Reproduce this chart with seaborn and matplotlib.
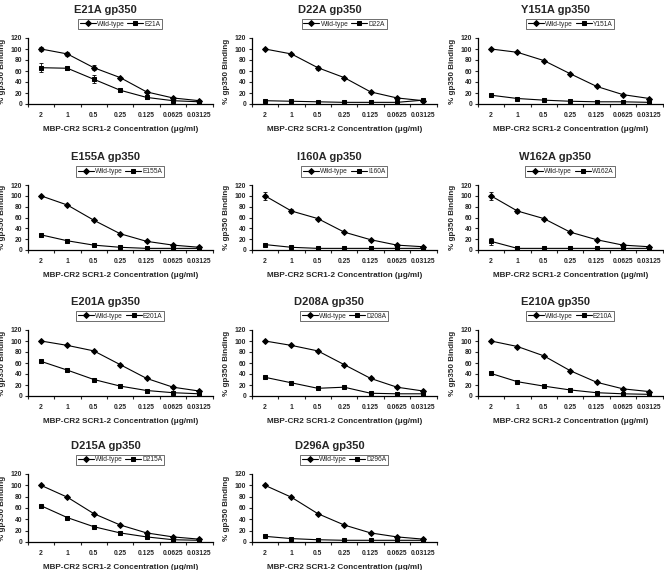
import numpy as np
import pandas as pd
import matplotlib
matplotlib.use("Agg")
import matplotlib.pyplot as plt
import seaborn as sns

concentrations = ["2", "1", "0.5", "0.25", "0.125", "0.0625", "0.03125"]
mutants = ["E21A", "D22A", "Y151A", "E155A", "I160A", "W162A",
           "E201A", "D208A", "E210A", "D215A", "D296A"]

wt_E21A = [100, 91, 66, 48, 22, 11, 6]
mut_E21A = [66, 65, 45, 25, 12, 6, 4]
wt_D22A = [100, 91, 66, 48, 22, 11, 6]
mut_D22A = [6, 5, 4, 3, 3, 3, 7]
wt_Y151A = [100, 94, 79, 55, 32, 17, 10]
mut_Y151A = [16, 10, 7, 5, 4, 4, 3]
wt_E155A = [100, 83, 55, 30, 16, 9, 5]
mut_E155A = [28, 17, 9, 5, 3, 3, 3]
wt_I160A = [100, 72, 58, 33, 19, 9, 6]
mut_I160A = [10, 5, 3, 3, 3, 3, 3]
wt_W162A = [100, 72, 58, 33, 19, 9, 6]
mut_W162A = [16, 3, 3, 3, 3, 3, 3]
wt_E201A = [100, 92, 82, 57, 32, 16, 9]
mut_E201A = [63, 47, 30, 18, 10, 6, 4]
wt_D208A = [100, 92, 82, 57, 32, 16, 9]
mut_D208A = [34, 24, 14, 16, 5, 4, 4]
wt_E210A = [100, 90, 73, 46, 25, 13, 8]
mut_E210A = [41, 26, 18, 11, 6, 4, 3]
wt_D215A = [100, 79, 50, 30, 16, 9, 5]
mut_D215A = [64, 43, 27, 16, 9, 4, 3]
wt_D296A = [100, 79, 50, 30, 16, 9, 5]
mut_D296A = [10, 6, 4, 3, 3, 3, 3]

wt_err_E21A = [3, 3, 5, 2, 2, 2, 2]
mut_err_E21A = [8, 3, 7, 2, 2, 1, 1]
wt_err_D22A = [2, 2, 4, 2, 2, 1, 1]
wt_err_I160A = [8, 3, 2, 2, 2, 1, 1]
wt_err_W162A = [8, 3, 2, 2, 2, 1, 1]
mut_err_W162A = [7, 1, 1, 1, 1, 1, 1]
mut_err_D215A = [2, 3, 2, 1, 1, 1, 1]

wt_values = [wt_E21A, wt_D22A, wt_Y151A, wt_E155A, wt_I160A, wt_W162A,
             wt_E201A, wt_D208A, wt_E210A, wt_D215A, wt_D296A]
mut_values = [mut_E21A, mut_D22A, mut_Y151A, mut_E155A, mut_I160A, mut_W162A,
              mut_E201A, mut_D208A, mut_E210A, mut_D215A, mut_D296A]
zero = [0] * 7
wt_errs = [wt_err_E21A, wt_err_D22A, zero, zero, wt_err_I160A, wt_err_W162A,
           zero, zero, zero, zero, zero]
mut_errs = [mut_err_E21A, zero, zero, zero, zero, mut_err_W162A,
            zero, zero, zero, mut_err_D215A, zero]

sns.set_theme(style="white")
plt.rcParams["font.family"] = ["Liberation Sans", "DejaVu Sans"]
plt.rcParams["font.weight"] = "bold"

W, H = 664, 570
fig = plt.figure(figsize=(W / 100, H / 100), dpi=100)

col_first = [41, 265, 491]
col_step = 26.4
row_top = [38, 185, 330, 474]
row_bot = [104, 250, 396, 542]

for i, mut in enumerate(mutants):
    r, c = divmod(i, 3)
    left = col_first[c] - col_step * 0.5
    width = col_step * 7
    top = row_top[r]
    height = row_bot[r] - row_top[r]
    ax = fig.add_axes([left / W, 1 - (top + height) / H, width / W, height / H])

    df = pd.DataFrame({
        "conc": concentrations * 2,
        "val": wt_values[i] + mut_values[i],
        "series": ["Wild-type"] * 7 + [mut] * 7,
    })
    sns.lineplot(data=df, x="conc", y="val", hue="series", style="series",
                 markers={"Wild-type": "D", mut: "s"}, dashes=False,
                 palette=["black", "black"], markersize=3.0, linewidth=0.8,
                 markeredgecolor="black", sort=False, ax=ax, legend=True)
    ax.errorbar(concentrations, wt_values[i], yerr=wt_errs[i], fmt="none",
                ecolor="black", elinewidth=0.6, capsize=1.5, capthick=0.6)
    ax.errorbar(concentrations, mut_values[i], yerr=mut_errs[i], fmt="none",
                ecolor="black", elinewidth=0.6, capsize=1.5, capthick=0.6)

    ax.set_xlim(-0.5, 6.5)
    ax.set_ylim(0, 120)
    ax.set_yticks(np.arange(0, 121, 20))
    ax.set_xticks(np.arange(-0.5, 7, 1), minor=True)
    ax.tick_params(axis="x", which="major", length=0, labelsize=4.9, pad=5.5)
    ax.tick_params(axis="x", which="minor", length=2.5, width=0.8,
                   direction="out", bottom=True)
    ax.tick_params(axis="y", length=2.5, width=0.8, direction="out",
                   left=True, labelsize=4.9, pad=1.5)
    for lab in ax.get_xticklabels() + ax.get_yticklabels():
        lab.set_fontweight("bold")
    for s in ["top", "right"]:
        ax.spines[s].set_visible(False)
    for s in ["left", "bottom"]:
        ax.spines[s].set_color("black")
        ax.spines[s].set_linewidth(0.9)
    ax.set_facecolor("white")

    ax.set_xlabel("MBP-CR2 SCR1-2 Concentration (μg/ml)", fontsize=5.9,
                  fontweight="bold", labelpad=5)
    ax.set_ylabel("% gp350 Binding", fontsize=5.8, fontweight="bold")
    ax.yaxis.set_label_coords(-0.12, 0.5)
    ax.set_title(f"{mut} gp350", fontsize=8, fontweight="bold",
                 x=0.42, y=1.25)

    handles, labels = ax.get_legend_handles_labels()
    leg = ax.legend(handles, labels, loc="center", bbox_to_anchor=(0.5, 1.21),
                    ncol=2, frameon=True, fancybox=False,
                    prop={"size": 4.8, "weight": "normal"},
                    handlelength=2.4, handletextpad=0.2, columnspacing=0.4,
                    borderpad=0.25, borderaxespad=0)
    leg.get_frame().set_edgecolor("black")
    leg.get_frame().set_linewidth(0.5)

fig.savefig("out.png", dpi=100, facecolor="white")
